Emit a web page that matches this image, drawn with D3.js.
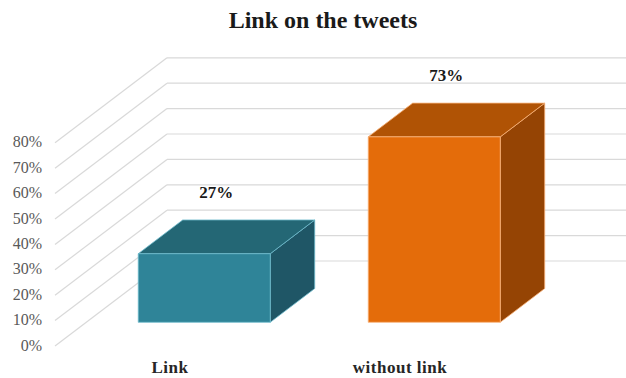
<!DOCTYPE html>
<html><head><meta charset="utf-8">
<script src="https://cdn.jsdelivr.net/npm/d3@7"></script>
<style>body{margin:0;background:#fff}svg{display:block}</style>
</head><body>
<script>
const categories = ["Link", "without link"];
const values = [0.27, 0.73];
const valueLabels = ["27%", "73%"];
const tickValues = [0, 0.1, 0.2, 0.3, 0.4, 0.5, 0.6, 0.7, 0.8];
const title = "Link on the tweets";
const faceColors = [
  {front: "#2F8498", top: "#246775", side: "#1F5666", edge: "#6FBBCD"},
  {front: "#E46C0A", top: "#B05305", side: "#954404", edge: "#F9B27A"}
];

const W = 626, H = 378;
const svg = d3.select("body").append("svg").attr("width", W).attr("height", H);

const frontY0 = 346, frontX0 = 55;
const depth = {dx: 112, dy: -85};
const h = d3.scaleLinear().domain([0, 0.8]).range([0, 203.2]);
const x = d3.scaleBand().domain(categories).range([58, 518]).paddingInner(0.426).paddingOuter(0.213);
const d0 = 0.279, d1 = 0.676;
const proj = (px, v, d) => [px + d * depth.dx, frontY0 - h(v) + d * depth.dy];

// title
svg.append("text").attr("x", 323).attr("y", 28).attr("text-anchor", "middle")
  .attr("font-family", "Liberation Serif").attr("font-weight", "bold").attr("font-size", 24)
  .attr("fill", "#1a1a1a").text(title);

// gridlines
const grid = svg.append("g").attr("stroke", "#d9d9d9").attr("stroke-width", 1.2).attr("fill", "none");
tickValues.forEach(t => {
  const a = proj(frontX0, t, 0), b = proj(frontX0, t, 1);
  grid.append("line").attr("x1", a[0]).attr("y1", a[1]).attr("x2", b[0]).attr("y2", b[1]);
  grid.append("line").attr("x1", b[0]).attr("y1", b[1]).attr("x2", W).attr("y2", b[1]);
});

// tick labels
svg.append("g").selectAll("text").data(tickValues).join("text")
  .attr("x", 42).attr("y", d => frontY0 - h(d) + 1)
  .attr("text-anchor", "end").attr("dominant-baseline", "middle")
  .attr("font-family", "Liberation Serif").attr("font-size", 16).attr("fill", "#595959")
  .text(d => d3.format(".0%")(d));

// bars
const bars = svg.append("g");
categories.forEach((c, i) => {
  const v = values[i], col = faceColors[i];
  const xl = x(c), xr = x(c) + x.bandwidth();
  const pts = arr => arr.map(p => p.join(",")).join(" ");
  const g = bars.append("g").attr("stroke", col.edge).attr("stroke-width", 0.8).attr("stroke-linejoin", "round");
  // right side
  g.append("polygon").attr("fill", col.side).attr("points", pts([
    proj(xr, 0, d0), proj(xr, 0, d1), proj(xr, v, d1), proj(xr, v, d0)]));
  // top
  g.append("polygon").attr("fill", col.top).attr("points", pts([
    proj(xl, v, d0), proj(xr, v, d0), proj(xr, v, d1), proj(xl, v, d1)]));
  // front
  g.append("polygon").attr("fill", col.front).attr("points", pts([
    proj(xl, 0, d0), proj(xr, 0, d0), proj(xr, v, d0), proj(xl, v, d0)]));
  // value label
  const top = proj(xl + x.bandwidth() / 2, v, d1);
  svg.append("text").attr("x", x(c) + x.bandwidth() / 2 + d0 * depth.dx + 12).attr("y", top[1] - 26)
    .attr("text-anchor", "middle").attr("dominant-baseline", "middle")
    .attr("font-family", "Liberation Serif").attr("font-weight", "bold").attr("font-size", 17)
    .attr("fill", "#1a1a1a").text(valueLabels[i]);
  // category label
  svg.append("text").attr("x", x(c) + x.bandwidth() / 2 - 3).attr("y", 369)
    .attr("text-anchor", "middle").attr("dominant-baseline", "middle")
    .attr("font-family", "Liberation Serif").attr("font-weight", "bold").attr("font-size", 17)
    .attr("letter-spacing", 0.5).attr("fill", "#262626").text(c);
});
</script>
</body></html>
